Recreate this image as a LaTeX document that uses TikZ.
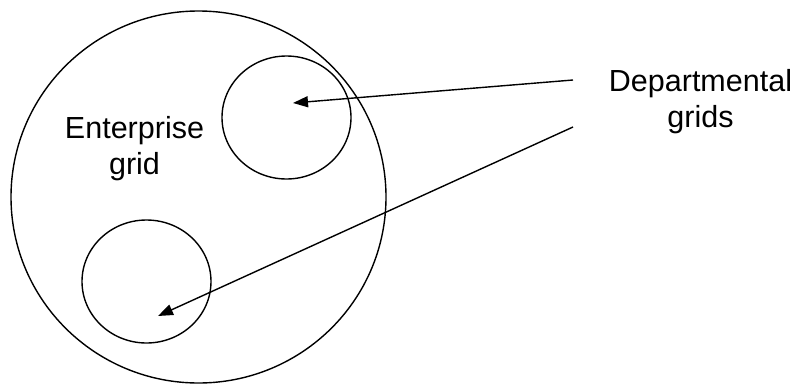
\documentclass[tikz,border=0pt]{standalone}
\usepackage{fontspec}
\setmainfont{Liberation Sans}
\usetikzlibrary{arrows.meta, shapes.geometric}

\begin{document}
\begin{tikzpicture}[x=1pt, y=-1pt, line width=1.4pt,
    >={Triangle[length=15pt, width=11pt]},
    grid/.style={draw, ellipse, inner sep=0pt},
    label/.style={align=center, inner sep=0pt,
                  font=\fontsize{30.5}{36}\selectfont}]
  \useasboundingbox (0,0) rectangle (795,383);

  % the enterprise grid and its two departmental grids
  \node[grid, minimum width=375pt, minimum height=372pt] (enterprise) at (198.5,197) {};
  \node[grid, minimum width=129pt, minimum height=123pt] (deptA) at (286.5,117.5) {};
  \node[grid, minimum width=129pt, minimum height=123pt] (deptB) at (146.5,281.5) {};

  \node[label] (enttext) at (134.5,149) {Enterprise\\grid};
  \node[label] (depttext) at (700.5,102) {Departmental\\grids};

  % arrow ends
  \coordinate (fromA) at (573,80);
  \coordinate (fromB) at (573,127);
  \coordinate (tipA) at (293,103);
  \coordinate (tipB) at (158,316);

  \draw[->] (fromA) -- (tipA);
  \draw[->] (fromB) -- (tipB);
\end{tikzpicture}
\end{document}
